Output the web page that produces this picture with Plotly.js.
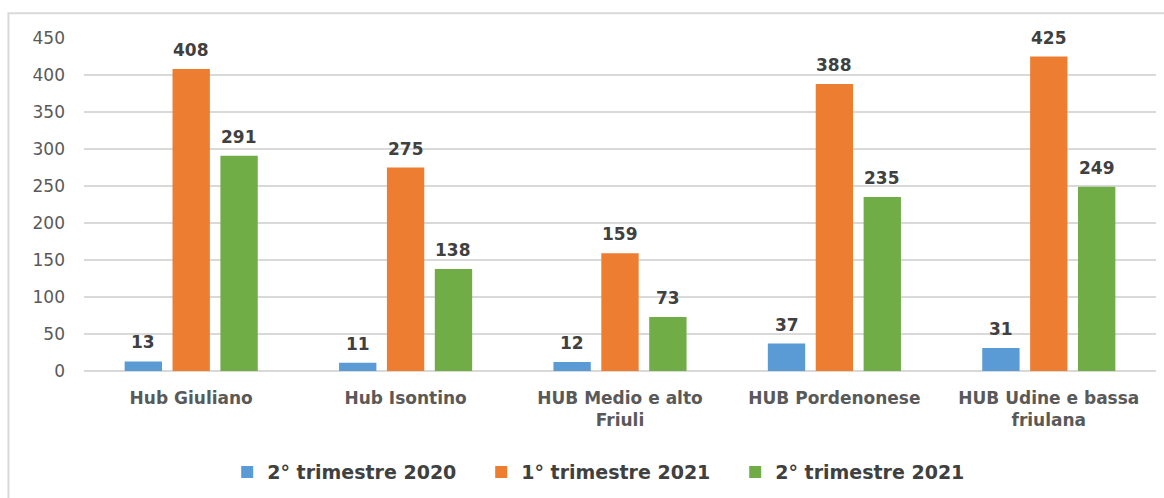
<!DOCTYPE html>
<html>
<head>
<meta charset="utf-8">
<script src="https://cdn.plot.ly/plotly-3.0.1.min.js"></script>
<style>
  html, body { margin: 0; padding: 0; background: #ffffff; }
  #grafico { width: 1164px; height: 498px; }
</style>
</head>
<body>
<div id="grafico"></div>
<script>
const categorie = [
    "Hub Giuliano",
    "Hub Isontino",
    "HUB Medio e alto<br>Friuli",
    "HUB Pordenonese",
    "HUB Udine e bassa<br>friulana"
];
const serie = ["2° trimestre 2020", "1° trimestre 2021", "2° trimestre 2021"];
const valori2020T2 = [13, 11, 12, 37, 31];
const valori2021T1 = [408, 275, 159, 388, 425];
const valori2021T2 = [291, 138, 73, 235, 249];
const colori = ["#5b9bd5", "#ed7d31", "#70ad47"];
const yTicks = [0, 50, 100, 150, 200, 250, 300, 350, 400, 450];

const tuttiValori = [valori2020T2, valori2021T1, valori2021T2];
const bargap = 0.33;

const traces = tuttiValori.map(function (vals, i) {
    return {
        type: 'bar',
        name: serie[i],
        x: categorie,
        y: vals,
        marker: { color: colori[i] },
        hoverinfo: 'none'
    };
});

// etichette sopra le barre (posizione calcolata dal gruppo)
const slot = (1 - bargap) / tuttiValori.length;
let annotations = [];
tuttiValori.forEach(function (vals, i) {
    vals.forEach(function (v, j) {
        annotations.push({
            x: j + (i - 1) * slot,
            y: v,
            xref: 'x',
            yref: 'y',
            text: String(v),
            showarrow: false,
            yanchor: 'bottom',
            yshift: 7,
            font: { family: 'DejaVu Sans', size: 17, color: '#404040', weight: 'bold' }
        });
    });
});

const layout = {
    width: 1164,
    height: 498,
    margin: { l: 84, r: 8, t: 38, b: 126 },
    paper_bgcolor: '#ffffff',
    plot_bgcolor: '#ffffff',
    showlegend: true,
    bargap: bargap,
    bargroupgap: 0.22,
    barmode: 'group',
    font: { family: 'DejaVu Sans', color: '#595959' },
    xaxis: {
        type: 'category',
        tickfont: { family: 'DejaVu Sans', size: 17, color: '#595959', weight: 'bold' },
        ticklabelstandoff: 15,
        showline: false,
        showgrid: false,
        fixedrange: true
    },
    yaxis: {
        range: [0, 450],
        tickvals: yTicks,
        ticktext: yTicks.map(String),
        tickfont: { family: 'DejaVu Sans', size: 17, color: '#595959' },
        ticklabelstandoff: 18,
        showgrid: true,
        gridcolor: '#d9d9d9',
        gridwidth: 2,
        zeroline: true,
        zerolinecolor: '#d9d9d9',
        zerolinewidth: 2,
        showline: false,
        fixedrange: true
    },
    legend: {
        orientation: 'h',
        x: 0.489,
        xanchor: 'center',
        y: -0.3,
        yanchor: 'middle',
        font: { family: 'DejaVu Sans', size: 19, color: '#404040', weight: 'bold' },
        entrywidth: 209,
        entrywidthmode: 'pixels',
        itemwidth: 30
    },
    annotations: annotations,
    shapes: [{
        type: 'rect',
        xref: 'paper', yref: 'paper',
        x0: -0.0705, x1: 1.05,
        y0: -0.5, y1: 1.0745,
        line: { color: '#d9d9d9', width: 2 },
        fillcolor: 'rgba(0,0,0,0)'
    }]
};

Plotly.newPlot('grafico', traces, layout, { displayModeBar: false, staticPlot: true });
</script>
</body>
</html>
